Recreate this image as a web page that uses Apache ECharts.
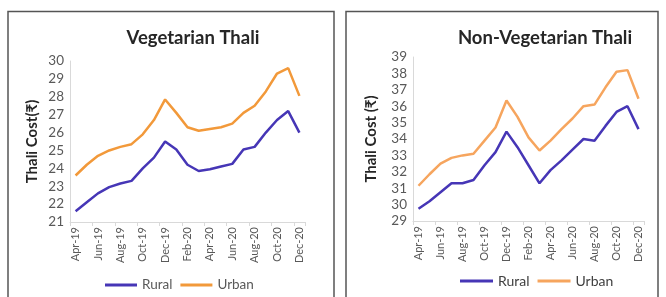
<!DOCTYPE html>
<html>
<head>
<meta charset="utf-8">
<script src="https://cdn.jsdelivr.net/npm/echarts@6/dist/echarts.min.js"></script>
<style>
  html, body { margin: 0; padding: 0; background: #fff; }
  #chart { width: 666px; height: 297px; }
</style>
</head>
<body>
<div id="chart"></div>
<script>
// months Apr-19 .. Dec-20
const months = [
  "Apr-19", "May-19", "Jun-19", "Jul-19", "Aug-19", "Sep-19", "Oct-19", "Nov-19",
  "Dec-19", "Jan-20", "Feb-20", "Mar-20", "Apr-20", "May-20", "Jun-20", "Jul-20",
  "Aug-20", "Sep-20", "Oct-20", "Nov-20", "Dec-20"
];

// Vegetarian thali cost (Rs)
const vegRural = [21.6, 22.1, 22.6, 22.95, 23.15, 23.3, 24.0, 24.6, 25.5, 25.05, 24.2,
  23.85, 23.95, 24.1, 24.25, 25.05, 25.2, 26.0, 26.7, 27.2, 26.0];
const vegUrban = [23.6, 24.2, 24.7, 25.0, 25.2, 25.35, 25.9, 26.7, 27.85, 27.1, 26.3,
  26.1, 26.2, 26.3, 26.5, 27.1, 27.5, 28.3, 29.3, 29.6, 28.05];

// Non-vegetarian thali cost (Rs)
const nonVegRural = [29.75, 30.2, 30.75, 31.3, 31.3, 31.5, 32.4, 33.2, 34.45, 33.5, 32.4,
  31.3, 32.1, 32.7, 33.35, 34.0, 33.9, 34.8, 35.65, 36.0, 34.6];
const nonVegUrban = [31.15, 31.85, 32.5, 32.85, 33.0, 33.1, 33.9, 34.7, 36.35, 35.35, 34.1,
  33.3, 33.9, 34.6, 35.25, 36.0, 36.1, 37.15, 38.1, 38.2, 36.45];

const purple = "#4636b6";
const orangeL = "#f2993a";
const orangeR = "#f6a55e";
const font = "Lato, 'Open Sans', sans-serif";

const chart = echarts.init(document.getElementById("chart"));

function xAxisFor(gridIndex) {
  return {
    type: "category",
    gridIndex: gridIndex,
    data: months,
    boundaryGap: true,
    axisLine: { lineStyle: { color: "#d9d9d9" } },
    axisTick: { show: true, interval: 1, length: 4, lineStyle: { color: "#d9d9d9" } },
    axisLabel: {
      interval: 1,
      rotate: 90,
      fontFamily: font,
      fontSize: 11,
      color: "#595959",
      margin: 5
    }
  };
}

function yAxisFor(gridIndex, min, max, name, gap) {
  return {
    type: "value",
    gridIndex: gridIndex,
    min: min,
    max: max,
    interval: 1,
    name: name,
    nameLocation: "middle",
    nameRotate: 90,
    nameGap: gap,
    nameTextStyle: { fontFamily: font, fontWeight: "bold", fontSize: 15, color: "#262626" },
    axisLine: { show: true, lineStyle: { color: "#d9d9d9" } },
    axisTick: { show: false },
    splitLine: { show: false },
    axisLabel: { fontFamily: font, fontSize: 13.5, color: "#595959", margin: 6 }
  };
}

function line(name, data, color, idx) {
  return {
    name: name,
    type: "line",
    xAxisIndex: idx,
    yAxisIndex: idx,
    data: data,
    symbol: "none",
    lineStyle: { color: color, width: 2.5 },
    itemStyle: { color: color }
  };
}

const option = {
  animation: false,
  backgroundColor: "#fff",
  title: [
    {
      text: "Vegetarian Thali",
      left: 188, top: 24, textAlign: "center",
      textStyle: { fontFamily: font, fontWeight: "bold", fontSize: 18.5, color: "#262626" }
    },
    {
      text: "Non-Vegetarian Thali",
      left: 540, top: 24, textAlign: "center",
      textStyle: { fontFamily: font, fontWeight: "bold", fontSize: 18.5, color: "#262626" }
    }
  ],
  legend: [
    {
      left: 100, top: 273,
      icon: "rect", itemWidth: 32, itemHeight: 3, itemGap: 8,
      textStyle: { fontFamily: font, fontSize: 13.5, color: "#595959" },
      data: [
        { name: "Rural", itemStyle: { color: purple } },
        { name: "Urban", itemStyle: { color: orangeL } }
      ]
    },
    {
      left: 455, top: 269,
      icon: "rect", itemWidth: 33, itemHeight: 3, itemGap: 8,
      textStyle: { fontFamily: font, fontSize: 14, color: "#404040" },
      data: [
        { name: "Rural", itemStyle: { color: purple } },
        { name: "Urban", itemStyle: { color: orangeR } }
      ]
    }
  ],
  grid: [
    { left: 70, top: 61, width: 235, height: 161 },
    { left: 413, top: 57, width: 231, height: 164 }
  ],
  xAxis: [xAxisFor(0), xAxisFor(1)],
  yAxis: [
    yAxisFor(0, 21, 30, "Thali Cost(\u20b9)", 30),
    yAxisFor(1, 29, 39, "Thali Cost (\u20b9)", 34)
  ],
  series: [
    line("Rural", vegRural, purple, 0),
    line("Urban", vegUrban, orangeL, 0),
    line("Rural", nonVegRural, purple, 1),
    line("Urban", nonVegUrban, orangeR, 1)
  ],
  graphic: [
    {
      type: "rect",
      shape: { x: 8, y: 11.5, width: 326, height: 300 },
      style: { fill: "none", stroke: "#555", lineWidth: 1.5 }
    },
    {
      type: "rect",
      shape: { x: 346, y: 11.5, width: 312, height: 300 },
      style: { fill: "none", stroke: "#555", lineWidth: 1.5 }
    }
  ]
};

chart.setOption(option);
</script>
</body>
</html>
